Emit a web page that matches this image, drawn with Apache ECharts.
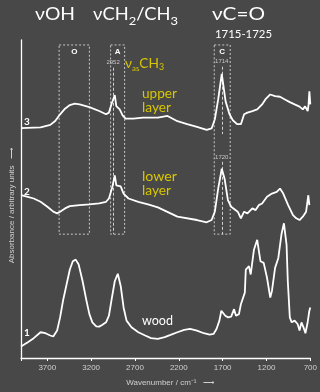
<!DOCTYPE html>
<html>
<head>
<meta charset="utf-8">
<script src="https://cdn.jsdelivr.net/npm/echarts@6/dist/echarts.min.js"></script>
<style>
html,body{margin:0;padding:0;background:#484848;}
#c{width:320px;height:392px;}
</style>
</head>
<body>
<div id="c"></div>
<script>
// ---- data (wavenumber cm-1, absorbance in arbitrary offset units) ----
const tickLabels = [700, 1200, 1700, 2200, 2700, 3200, 3700];
const woodSpectrum = [[4000,11.7],[3922,16],[3855,20],[3777,26],[3721,25],[3666,22.7],[3632,21.7],[3588,27.7],[3554,41],[3521,57.7],[3476,76],[3443,89.3],[3409,97.7],[3376,99.3],[3342,94.3],[3298,77.7],[3253,57.7],[3220,44.3],[3186,36],[3142,32],[3108,31.7],[3075,33.3],[3030,36],[2997,42.7],[2963,61],[2930,77.7],[2896,85],[2863,72.7],[2830,51],[2796,37.7],[2740,31],[2662,26],[2584,22.7],[2517,20],[2439,19.3],[2361,21],[2294,23.3],[2216,26],[2138,28.3],[2071,29.3],[1993,27.7],[1915,25],[1848,23.7],[1804,24.3],[1770,29.3],[1737,37.7],[1715,47.7],[1700,49.3],[1670,42.7],[1637,41],[1603,41.7],[1570,49.3],[1548,42.7],[1514,44.3],[1492,54.3],[1470,56],[1447,66],[1436,89.3],[1400,92.7],[1380,84.3],[1343,109.3],[1306,119.3],[1269,97.7],[1232,96],[1194,81],[1157,61],[1138,67.7],[1102,91],[1065,101],[1027,126],[1001,136],[971,114.3],[957,77.7],[934,41],[912,36],[879,37.7],[845,34.3],[823,27.7],[801,36],[778,31],[756,25],[734,34.3],[711,47.7],[700,51]];
const lowerSpectrum = [[4000,164.3],[3922,162.7],[3855,161],[3777,157.7],[3699,152.7],[3632,147.7],[3588,146],[3554,147.7],[3498,151],[3443,153.3],[3331,154.3],[3220,155],[3108,156],[3030,157.7],[2997,161],[2963,171],[2930,184.3],[2913,174.3],[2863,173.3],[2830,166],[2774,161],[2662,157.7],[2551,155],[2439,152],[2216,142.7],[1993,139.3],[1882,137],[1826,139.3],[1789,147.7],[1751,171],[1710,191],[1678,181],[1640,159.3],[1603,152.7],[1528,147.7],[1492,141],[1455,147.7],[1417,146],[1361,151],[1324,149.3],[1288,154.3],[1250,156],[1194,162.7],[1138,166],[1083,167.7],[1046,171],[1009,166],[953,154.3],[898,144.3],[860,141],[823,139.3],[786,142.7],[748,147.7],[723,164.3],[711,154.3]];
const upperSpectrum = [[4000,232],[3777,232.7],[3666,235.3],[3610,239.3],[3554,246],[3498,251.7],[3443,255.3],[3387,256.7],[3331,256],[3220,253.3],[3108,249.3],[3030,246],[2997,247.7],[2963,257.7],[2930,265.3],[2913,254.3],[2874,251],[2841,245],[2807,241.7],[2718,241.7],[2607,242.7],[2439,242.7],[2328,244.3],[2216,239],[2105,236],[1993,233.3],[1882,230.3],[1826,231.7],[1789,241],[1751,261],[1710,286.7],[1667,259.3],[1622,246],[1584,240],[1536,236],[1492,236],[1455,246],[1417,247.7],[1361,249.3],[1343,247.7],[1306,251],[1250,256],[1213,261],[1157,266],[1102,264.3],[1046,263.7],[990,261],[934,258.3],[879,256],[823,253.7],[786,251],[760,254],[748,252.7],[738,255],[730,249.3],[720,256],[711,269.3],[700,256]];
const boxes = [
  {name:'O', from:3565, to:3220},
  {name:'A', from:2978, to:2818},
  {name:'C', from:1796, to:1614}
];
const boxRange = [125, 316];
const refLines = [
  {wn:2950, label:'2952', from:293, to:125},
  {wn:1710, label:'1714', from:294, to:226},
  {wn:1710, label:'1720', from:198, to:125}
];

const chart = echarts.init(document.getElementById('c'), null, {renderer:'canvas'});
const white = '#ffffff';
const gray = '#d0d0d0';
const yellow = '#d8c600';
const tfont = 'Lato, "Open Sans", sans-serif';
const afont = '"Liberation Sans", Arial, sans-serif';

const mctx = document.createElement('canvas').getContext('2d');
function tw(t, size, family) { mctx.font = size + 'px ' + family; return mctx.measureText(t).width; }
// a line of text pieces (for subscripts), stretched horizontally to span [left,right]
function textRun(parts, left, right, midY, color) {
  let x = 0; const children = [];
  parts.forEach(p => {
    children.push({type:'text', x:x, y:p.dy || 0, style:{text:p.t, fill:color, font:p.size + 'px ' + tfont,
      align:'left', verticalAlign:'middle', textAlign:'left', textVerticalAlign:'middle'}});
    x += tw(p.t, p.size, tfont);
  });
  return {type:'group', x:left, y:midY, scaleX:(right - left) / x, children};
}

function lineSeries(name, data, extra) {
  return Object.assign({
    name, type:'line', data, showSymbol:false, symbol:'none',
    lineStyle:{color:white, width:1.8}, itemStyle:{color:white}, z:5
  }, extra || {});
}

const option = {
  backgroundColor:'#484848',
  animation:false,
  grid:{left:20, right:4, top:40, bottom:31},
  xAxis:{
    type:'value', min:700, max:4000, inverse:true,
    axisLine:{lineStyle:{color:white, width:1.3}},
    axisTick:{show:true, length:3, lineStyle:{color:white}, customValues: tickLabels.concat([4000])},
    axisLabel:{color:gray, fontSize:8, margin:6, fontFamily:afont, customValues: tickLabels, formatter: v => String(v)},
    splitLine:{show:false},
    name:'Wavenumber / cm\u207B\u00B9   \u27F6', nameLocation:'middle', nameGap:21,
    nameTextStyle:{color:gray, fontSize:8, fontFamily:afont, padding:[0,0,0,9]}
  },
  yAxis:{
    type:'value', min:0, max:321,
    axisLine:{show:true, lineStyle:{color:white, width:1.3}},
    axisTick:{show:false}, axisLabel:{show:false}, splitLine:{show:false},
    name:'Absorbance / arbitrary units   \u27F6', nameLocation:'middle', nameGap:5,
    nameTextStyle:{color:gray, fontSize:8, fontFamily:afont, padding:[0,13,0,0]}
  },
  series:[
    lineSeries('wood', woodSpectrum, {
      markArea:{
        silent:true,
        itemStyle:{color:'rgba(0,0,0,0)', borderColor:'#c8c8c8', borderWidth:1, borderType:[2,2]},
        label:{show:true, position:'insideTop', color:white, fontSize:8, fontWeight:'bold', distance:3, fontFamily:afont},
        data: boxes.map(b => [{name:b.name, coord:[b.from, boxRange[1]]}, {coord:[b.to, boxRange[0]]}])
      },
      markLine:{
        silent:true, symbol:['none','none'],
        lineStyle:{color:'#d0d0d0', width:1, type:[3,2]},
        label:{show:true, position:'start', distance:2, color:'#c8c8c8', fontSize:6, fontFamily:afont, formatter: p => p.name},
        data: refLines.map(r => [{name:r.label, coord:[r.wn, r.from]}, {coord:[r.wn, r.to]}])
      }
    }),
    lineSeries('lower layer', lowerSpectrum),
    lineSeries('upper layer', upperSpectrum)
  ],
  graphic:[
    textRun([{t:'\u03BDOH', size:17}], 35, 75, 15, white),
    textRun([{t:'\u03BDCH', size:17}, {t:'2', size:12, dy:6}, {t:'/CH', size:17}, {t:'3', size:12, dy:6}], 93, 178, 15, white),
    textRun([{t:'\u03BDC=O', size:17}], 212, 265, 15, white),
    textRun([{t:'1715-1725', size:12}], 215, 272, 34, white),
    textRun([{t:'\u03BD', size:14}, {t:'as', size:8, dy:5}, {t:'CH', size:14}, {t:'3', size:9, dy:4}], 125, 164, 63, yellow),
    textRun([{t:'upper', size:14}], 142, 177, 93, yellow),
    textRun([{t:'layer', size:14}], 142, 171, 107, yellow),
    textRun([{t:'lower', size:14}], 142, 177, 176, yellow),
    textRun([{t:'layer', size:14}], 142, 171, 190, yellow),
    textRun([{t:'wood', size:13}], 142, 173, 321, white),
    {type:'text', x:24, y:122, style:{text:'3', fill:white, font:'bold 10px ' + tfont, verticalAlign:'middle', textVerticalAlign:'middle'}},
    {type:'text', x:24, y:192, style:{text:'2', fill:white, font:'bold 10px ' + tfont, verticalAlign:'middle', textVerticalAlign:'middle'}},
    {type:'text', x:24, y:333, style:{text:'1', fill:white, font:'bold 10px ' + tfont, verticalAlign:'middle', textVerticalAlign:'middle'}}
  ]
};
chart.setOption(option);
</script>
</body>
</html>
